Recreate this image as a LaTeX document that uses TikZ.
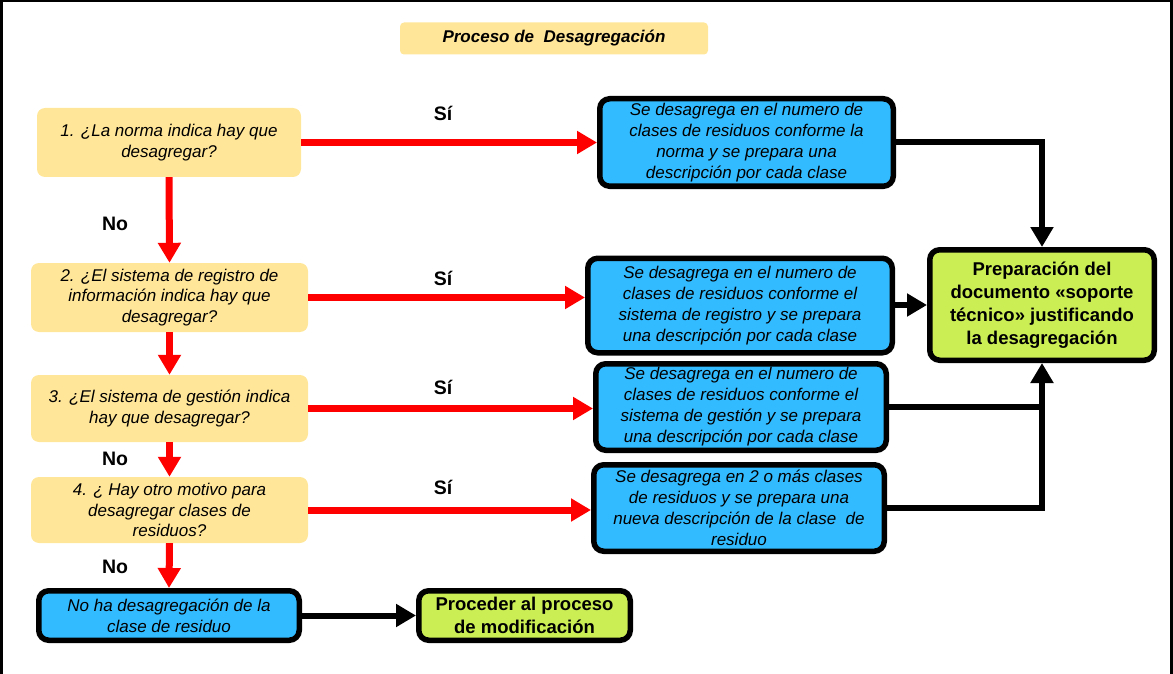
\documentclass[tikz,border=0pt]{standalone}
\usepackage{fontspec}
\setmainfont{Liberation Sans}
\usetikzlibrary{arrows.meta}
\definecolor{qyel}{HTML}{FFE699}
\definecolor{bblue}{HTML}{33BBFF}
\definecolor{ggreen}{HTML}{CCEE55}
\definecolor{rred}{HTML}{FF0000}
\begin{document}
\begin{tikzpicture}[x=1pt,y=-1pt,
  qbox/.style={fill=qyel, rounded corners=8pt, align=center, inner sep=0pt, font=\fontsize{17}{20.5}\selectfont\itshape},
  bbox/.style={fill=bblue, draw=black, line width=5.5pt, rounded corners=10pt, align=center, inner sep=0pt, font=\fontsize{17}{21}\selectfont\itshape},
  gbox/.style={fill=ggreen, draw=black, line width=5.5pt, rounded corners=10pt, align=center, inner sep=0pt, font=\fontsize{18.5}{23}\selectfont\bfseries},
  redarr/.style={draw=rred, line width=7pt, -{Triangle[length=20pt,width=22pt]}},
  blkarr/.style={draw=black, line width=6pt, -{Triangle[length=20pt,width=22pt]}},
  blkline/.style={draw=black, line width=6pt},
  lbl/.style={font=\fontsize{19.5}{21}\selectfont\bfseries}
]
\useasboundingbox (0,0) rectangle (1173,674);
\draw[line width=2.5pt] (1.5,674) -- (1.5,1.25) -- (1171.5,1.25) -- (1171.5,674);

\node[fill=qyel, rounded corners=4pt, minimum width=308pt, minimum height=32pt, inner sep=0pt,
  font=\fontsize{17}{20}\selectfont\bfseries\itshape] (title) at (554,38.5) {Proceso de\ \ Desagregación};

% question boxes
\node[qbox, minimum width=264pt, minimum height=69pt] (q1) at (169,142.5)
  {1. ¿La norma indica hay que\\desagregar?};
\node[qbox, minimum width=277pt, minimum height=69pt] (q2) at (169.5,297.5)
  {2. ¿El sistema de registro de\\información indica hay que\\desagregar?};
\node[qbox, minimum width=277pt, minimum height=67pt] (q3) at (169.5,408.5)
  {3. ¿El sistema de gestión indica\\hay que desagregar?};
\node[qbox, minimum width=277pt, minimum height=66pt] (q4) at (169.5,510)
  {4. ¿ Hay otro motivo para\\desagregar clases de\\residuos?};

% blue boxes
\node[bbox, minimum width=293.5pt, minimum height=87.5pt] (b1) at (746.5,142.5)
  {Se desagrega en el numero de\\clases de residuos conforme la\\norma y se prepara una\\descripción por cada clase};
\node[bbox, minimum width=304.5pt, minimum height=94.5pt] (b2) at (740,305.5)
  {Se desagrega en el numero de\\clases de residuos conforme el\\sistema de registro y se prepara\\una descripción por cada clase};
\node[bbox, minimum width=290.5pt, minimum height=86.5pt] (b3) at (741,407)
  {Se desagrega en el numero de\\clases de residuos conforme el\\sistema de gestión y se prepara\\una descripción por cada clase};
\node[bbox, minimum width=290.5pt, minimum height=86.5pt] (b4) at (739,508)
  {Se desagrega en 2 o más clases\\de residuos y se prepara una\\nueva descripción de la clase\ \ de\\residuo};
\node[bbox, minimum width=260.5pt, minimum height=49.5pt] (n) at (169,615.5)
  {No ha desagregación de la\\clase de residuo};

% green boxes
\node[gbox, minimum width=211.5pt, minimum height=49.5pt] (p) at (524.5,615.5)
  {Proceder al proceso\\de modificación};
\node[gbox, minimum width=224.5pt, minimum height=110.5pt] (g) at (1042,305)
  {Preparación del\\documento «soporte\\técnico» justificando\\la desagregación};

% red arrows
\draw[redarr] (q1.east) -- (q1.east -| b1.west);
\draw[redarr] (q2.east) -- (q2.east -| b2.west);
\draw[redarr] (q3.east) -- (q3.east -| b3.west);
\draw[redarr] (q4.east) -- (q4.east -| b4.west);
\draw[redarr] (q1.south) -- (q2.north);
\draw[redarr] (q2.south) -- (q3.north);
\draw[redarr] (q3.south) -- (q4.north);
\draw[redarr] (q4.south) -- (n.north);

% labels
\node[lbl] (s1) at (443,113) {Sí};
\node[lbl] (s2) at (443,278) {Sí};
\node[lbl] (s3) at (443,387) {Sí};
\node[lbl] (s4) at (443,487) {Sí};
\node[lbl] (n1) at (115,224) {No};
\node[lbl] (n2) at (115,459) {No};
\node[lbl] (n3) at (115,567) {No};

% black connectors
\draw[blkarr] (b1.east) -| (g.north);
\draw[blkarr] (b2.east |- g.west) -- (g.west);
\draw[blkarr] (b4.east) -| (g.south);
\draw[blkline] (b3.east) -- (b3.east -| g.south);
\draw[blkarr] (n.east) -- (p.west);
\end{tikzpicture}
\end{document}
